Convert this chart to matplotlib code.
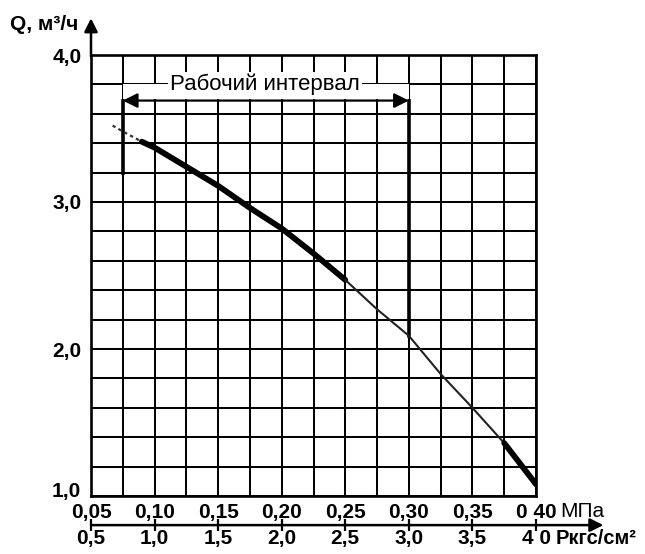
import matplotlib
matplotlib.use("Agg")
import matplotlib.pyplot as plt
import matplotlib.transforms as mtransforms
import numpy as np

# ---- data ----
P_mpa = [0.067, 0.075, 0.09, 0.10, 0.125, 0.15, 0.175, 0.20, 0.225, 0.25,
         0.275, 0.30, 0.325, 0.35, 0.375, 0.40]
Q_m3h = [3.52, 3.48, 3.41, 3.37, 3.24, 3.11, 2.96, 2.82, 2.65, 2.47,
         2.27, 2.09, 1.83, 1.60, 1.36, 1.08]
mpa_ticks = [0.05, 0.10, 0.15, 0.20, 0.25, 0.30, 0.35, 0.40]
mpa_labels = ["0,05", "0,10", "0,15", "0,20", "0,25", "0,30", "0,35", "0 40"]
kgf_labels = ["0,5", "1,0", "1,5", "2,0", "2,5", "3,0", "3,5", "4 0"]
q_ticks = [1.0, 2.0, 3.0, 4.0]
q_labels = ["1,0", "2,0", "3,0", "4,0"]
interval = [0.075, 0.30]
interval_text = "Рабочий интервал"

plt.rcParams['font.family'] = ['Liberation Sans', 'DejaVu Sans']

fig = plt.figure(figsize=(6.45, 5.54), dpi=100)
ax = fig.add_axes([91/645, 58/554, 445/645, 441/554])
ax.set_xlim(0.05, 0.40)
ax.set_ylim(1.0, 4.0)

ax.set_xticks(mpa_ticks)
ax.set_xticklabels(mpa_labels, fontsize=15, fontweight='bold')
ax.set_xticks(np.arange(0.075, 0.40, 0.05), minor=True)
ax.set_yticks(q_ticks)
ax.set_yticklabels(q_labels, fontsize=15, fontweight='bold')
ax.set_yticks(np.arange(1.2, 4.0, 0.2), minor=True)
ax.tick_params(which='both', length=0)
ax.tick_params(axis='x', pad=5)
ax.tick_params(axis='y', pad=7)
ax.grid(which='both', color='black', lw=1.45, zorder=1)
ax.set_axisbelow(True)
for s in ax.spines.values():
    s.set_linewidth(1.9)
    s.set_zorder(5)

# raise the bottom y label a little (as in the reference)
lab0 = ax.get_yticklabels()[0]
lab0.set_transform(lab0.get_transform() +
                   mtransforms.ScaledTranslation(0, 6/100, fig.dpi_scale_trans))

# working interval band
ax.fill_between(interval, 3.70, 3.80, color='white', zorder=2, lw=0)
ax.annotate('', xy=(interval[0], 3.69), xytext=(interval[1], 3.69),
            arrowprops=dict(arrowstyle='<|-|>', color='black', lw=1.6,
                            mutation_scale=22, shrinkA=0, shrinkB=0), zorder=4)
ax.text(0.1867, 3.80, interval_text, ha='center', va='center', fontsize=16,
        zorder=4, bbox=dict(facecolor='white', edgecolor='none', pad=1.5))
ax.plot([interval[0], interval[0]], [3.69, 3.20], color='black', lw=2.6, zorder=4)
ax.plot([interval[1], interval[1]], [3.69, 2.09], color='black', lw=2.6, zorder=4)

# curve
P = np.array(P_mpa)
Q = np.array(Q_m3h)
m0 = P <= 0.09
m1 = (P >= 0.09) & (P <= 0.25)
m2 = (P >= 0.25) & (P <= 0.375)
m3 = P >= 0.375
ax.plot(P[m0], Q[m0], color='#333333', lw=1.6, ls=(0, (1.5, 1.5)), zorder=6)
ax.plot(P[m1], Q[m1], color='black', lw=4.2, solid_capstyle='round', zorder=6)
ax.plot(P[m2], Q[m2], color='#222222', lw=1.5, zorder=6)
ax.plot(P[m3], Q[m3], color='black', lw=4.2, solid_capstyle='round', zorder=6)

# y axis arrow and label
ax.annotate('', xy=(0.05, 4.25), xytext=(0.05, 3.99),
            arrowprops=dict(arrowstyle='-|>', color='black', lw=1.8,
                            mutation_scale=20, shrinkA=0, shrinkB=0),
            annotation_clip=False)
fig.text(10/645, 1 - 25/554, "Q, м³/ч", ha='left', va='center',
         fontsize=15, fontweight='bold')

# second x scale (kgf/cm2)
trans = mtransforms.blended_transform_factory(ax.transData, ax.transAxes)
ya = -0.066
ax.annotate('', xy=(0.453, ya), xytext=(0.05, ya), xycoords=trans, textcoords=trans,
            arrowprops=dict(arrowstyle='-|>', color='black', lw=1.8,
                            mutation_scale=20, shrinkA=0, shrinkB=0),
            annotation_clip=False)
ax.plot(mpa_ticks, [ya] * len(mpa_ticks), ls='none', marker='|', ms=9, mew=1.6,
        color='black', transform=trans, clip_on=False)
for x, lab in zip(mpa_ticks, kgf_labels):
    ax.text(x, -0.097, lab, transform=trans, ha='center', va='center',
            fontsize=15, fontweight='bold')
ax.text(0.4367, -0.036, "МПа", transform=trans, ha='center', va='center',
        fontsize=15)
ax.text(0.4155, -0.097, "Ркгс/см²", transform=trans, ha='left', va='center',
        fontsize=14.5, fontweight='bold')

fig.savefig("out.png", dpi=100)
